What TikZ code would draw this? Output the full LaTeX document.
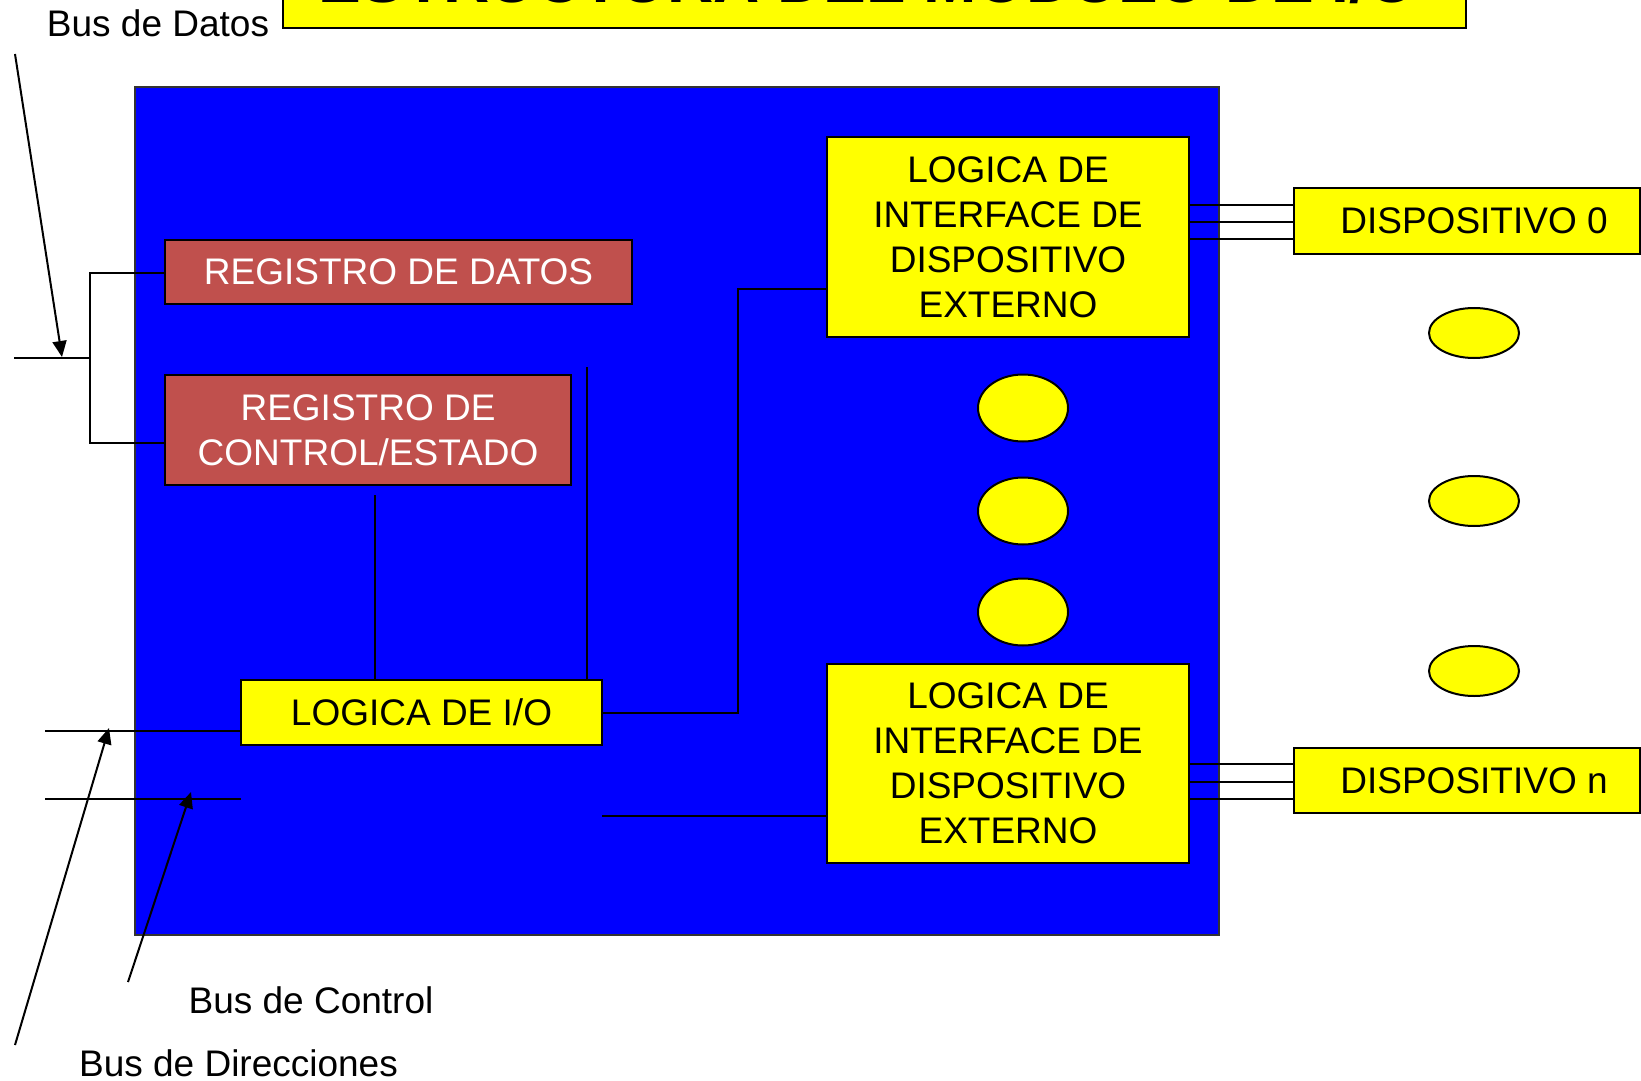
\documentclass[tikz,border=0pt]{standalone}
\usepackage{fontspec}
\setmainfont{Liberation Sans}
\usetikzlibrary{arrows.meta,shapes.geometric}
\definecolor{regred}{RGB}{192,80,77}
\definecolor{yel}{RGB}{255,255,0}
\definecolor{modblue}{RGB}{0,0,255}
\begin{document}
\begin{tikzpicture}[x=0.5pt,y=-0.5pt,
  txt/.style={font=\fontsize{18.5}{22.5}\selectfont, align=center, inner sep=0},
  ybox/.style={txt, draw=black, line width=1pt, fill=yel, text=black},
  rbox/.style={txt, draw=black, line width=1pt, fill=regred, text=white},
  dotel/.style={ellipse, draw=black, line width=1pt, fill=yel, inner sep=0},
  wire/.style={line width=1pt},
  arr/.style={line width=1pt, -{Triangle[length=8pt,width=7pt]}},
  lbl/.style={font=\fontsize{18.5}{22.5}\selectfont, inner sep=0}]
\useasboundingbox (0,0) rectangle (1641,1080);
\clip (0,0) rectangle (1641,1080);
\fill[white] (0,0) rectangle (1641,1080);

% title
\node (title) [draw=black, line width=1pt, fill=yel, minimum width=591.5pt, minimum height=44pt, inner sep=0] at (874.5,-16) {};
\node (titletxt) [anchor=base, inner sep=0, font=\fontsize{32}{36}\selectfont\bfseries] at (868,3) {ESTRUCTURA DEL MODULO DE I/O};

% module
\node (mod) [draw=black!80, line width=0.8pt, fill=modblue, minimum width=542pt, minimum height=424pt, inner sep=0] at (677,511) {};

% registers
\node (regD) [rbox, minimum width=233.5pt, minimum height=32pt] at (398.5,272) {REGISTRO DE DATOS};
\node (regC) [rbox, minimum width=203pt, minimum height=55pt] at (368,430) {REGISTRO DE\\CONTROL/ESTADO};
\node (logic) [ybox, minimum width=180.5pt, minimum height=32.5pt] at (421.5,712.5) {LOGICA DE I/O};
\node (if1) [ybox, minimum width=181pt, minimum height=100pt] at (1008,237) {LOGICA DE\\INTERFACE DE\\DISPOSITIVO\\EXTERNO};
\node (if2) [ybox, minimum width=181pt, minimum height=99.5pt] at (1008,763.5) {LOGICA DE\\INTERFACE DE\\DISPOSITIVO\\EXTERNO};
\node (d0) [ybox, minimum width=173pt, minimum height=33pt] at (1467,221) {\hspace*{7pt}DISPOSITIVO 0};
\node (dn) [ybox, minimum width=173pt, minimum height=32.5pt] at (1467,780.5) {\hspace*{7pt}DISPOSITIVO n};

% ellipses
\node (e1) [dotel, minimum width=45pt, minimum height=33.5pt] at (1023,408) {};
\node (e2) [dotel, minimum width=45pt, minimum height=33.5pt] at (1023,511) {};
\node (e3) [dotel, minimum width=45pt, minimum height=33.5pt] at (1023,612) {};
\node (f1) [dotel, minimum width=45pt, minimum height=25pt] at (1474,333) {};
\node (f2) [dotel, minimum width=45pt, minimum height=25pt] at (1474,501) {};
\node (f3) [dotel, minimum width=45pt, minimum height=25pt] at (1474,671) {};

% data bus bracket
\coordinate (dbL) at (14,358);
\coordinate (dbJ) at (90,358);
\coordinate (dbT) at (90,273);
\coordinate (dbB) at (90,443);
\draw[wire] (dbL) -- (dbJ);
\draw[wire] (regD.west |- dbT) -- (dbT) -- (dbB) -- (regC.west |- dbB);

% verticals to logic
\coordinate (vc) at (375,495);
\coordinate (vr) at (587,367);
\draw[wire] (vc) -- (logic.north -| vc);
\draw[wire] (vr) -- (logic.north -| vr);

% logic to interfaces
\coordinate (lo) at (602,713);
\coordinate (lk1) at (738,713);
\coordinate (lk2) at (738,289);
\draw[wire] (lo) -- (lk1) -- (lk2) -- (if1.west |- lk2);
\coordinate (lo2) at (602,816);
\draw[wire] (lo2) -- (if2.west |- lo2);

% address and control lines
\coordinate (addrL) at (45,731);
\coordinate (ctlL) at (45,799);
\coordinate (ctlR) at (241,799);
\draw[wire] (addrL) -- (logic.west |- addrL);
\draw[wire] (ctlL) -- (ctlR);

% device links
\foreach \yy in {205,222,239} {\draw[wire] (if1.east |- 0,\yy) -- (d0.west |- 0,\yy);}
\foreach \yy in {764,782,799} {\draw[wire] (if2.east |- 0,\yy) -- (dn.west |- 0,\yy);}

% labels
\node (lbD) [lbl] at (158,23) {Bus de Datos};
\node (lbC) [lbl] at (311,1000) {Bus de Control};
\node (lbA) [lbl] at (238.5,1063) {Bus de Direcciones};

% label arrows
\coordinate (aD0) at (15,54);
\coordinate (aD1) at (62,357);
\coordinate (aA0) at (15,1045);
\coordinate (aA1) at (109,728);
\coordinate (aC0) at (128,982);
\coordinate (aC1) at (191,792);
\draw[arr] (aD0) -- (aD1);
\draw[arr] (aA0) -- (aA1);
\draw[arr] (aC0) -- (aC1);
\end{tikzpicture}
\end{document}
